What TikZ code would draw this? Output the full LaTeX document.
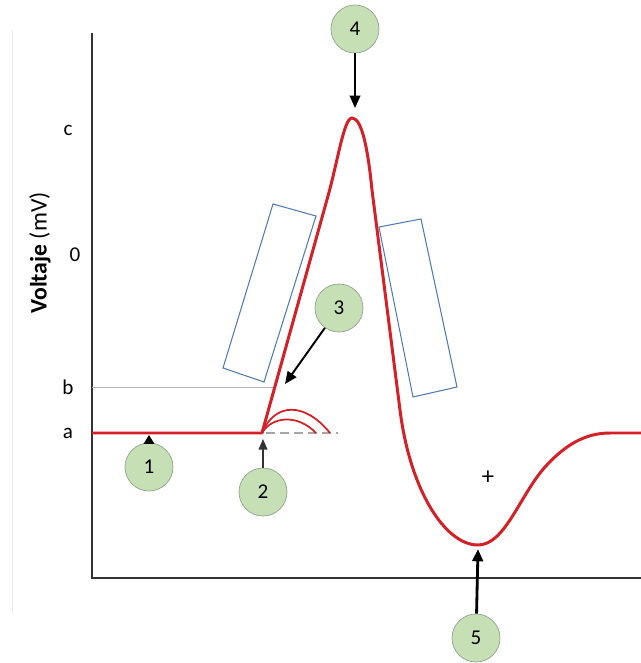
\documentclass[tikz,border=0pt]{standalone}
\usepackage{fontspec}
\setsansfont{Carlito}
\usepackage{tikz}
\usetikzlibrary{arrows.meta}
\definecolor{spike}{HTML}{D42027}
\definecolor{leaf}{HTML}{C7DFB5}
\definecolor{rim}{HTML}{8CA68A}
\definecolor{steel}{HTML}{4F7DB0}

\begin{document}
\begin{tikzpicture}[x=0.02cm,y=-0.02cm,
    num/.style={circle,draw=rim,fill=leaf,minimum size=0.96cm,inner sep=0pt,
        font=\sffamily\fontsize{12}{14}\selectfont},
    tag/.style={font=\sffamily\fontsize{12}{14}\selectfont},
    pointer/.style={-{Triangle[length=7pt,width=6pt]},line width=1.1pt}]
    \useasboundingbox (0,0) rectangle (641,663);
    \draw[gray!15] (12,30) -- (12,612);
    % axes
    \draw[line width=1.1pt,black!80] (92,33) -- (92,578) -- (641,578);
    \node[tag] at(68,130)(c){c};
    \node[tag] at(75,255)(zero){0};
    \node[tag] at(68,387)(b){b};
    \node[tag] at(68,433)(a){a};
    \node[rotate=90,font=\sffamily\fontsize{13.5}{16}\selectfont] at(40,253)(volt){\textbf{Voltaje} (mV)};
    \draw[gray!60] (92,387) -- (276,387);
    % ion channels
    \draw[steel,line width=0.6pt] (223,368) -- (273,204) -- (316,216) -- (264,382) -- cycle;
    \draw[steel,line width=0.6pt] (379,227) -- (421,219) -- (457,387) -- (413,397) -- cycle;
    % subthreshold
    \draw[gray!70,dash pattern=on 5pt off 3pt,line width=1.2pt] (266,433) -- (338,433);
    \draw[spike,line width=1pt] (262,433) .. controls (275,402) and (305,402) .. (330,433);
    \draw[spike,line width=1pt] (262,433) .. controls (272,416) and (298,414) .. (316,433);
    % action potential
    \draw[spike,line width=1.7pt,line join=round] (92,433) -- (262,433) -- (328,196)
        .. controls (338,160) and (344,118) .. (352,118)
        .. controls (362,118) and (368,150) .. (372,190)
        -- (400,410)
        .. controls (410,490) and (445,545) .. (478,545)
        .. controls (505,545) and (520,495) .. (545,467)
        .. controls (565,445) and (585,433) .. (610,433) -- (641,433);
    \node[font=\sffamily\fontsize{14}{16}\selectfont] at(488,478)(plus){+};
    % markers
    \node[num] at(149,467)(n1){1};
    \node[num] at(263,492)(n2){2};
    \node[num] at(339,308)(n3){3};
    \node[num] at(355,29)(n4){4};
    \node[num] at(476,638)(n5){5};
    \coordinate (rest) at(149,435);
    \coordinate (start) at(263,439);
    \coordinate (rise) at(285,384);
    \coordinate (top) at(355,108);
    \coordinate (low) at(478,549);
    \draw[pointer] (n4) -- (top);
    \draw[pointer] (n3) -- (rise);
    \draw[pointer,line width=1.6pt] (n5) -- (low);
    \draw[-{Triangle[length=5pt,width=6pt]},line width=0.8pt] (n1) -- (rest);
    \draw[-{Triangle[length=6pt,width=5pt]},line width=0.8pt,black!80] (n2) -- (start);
\end{tikzpicture}
\end{document}
